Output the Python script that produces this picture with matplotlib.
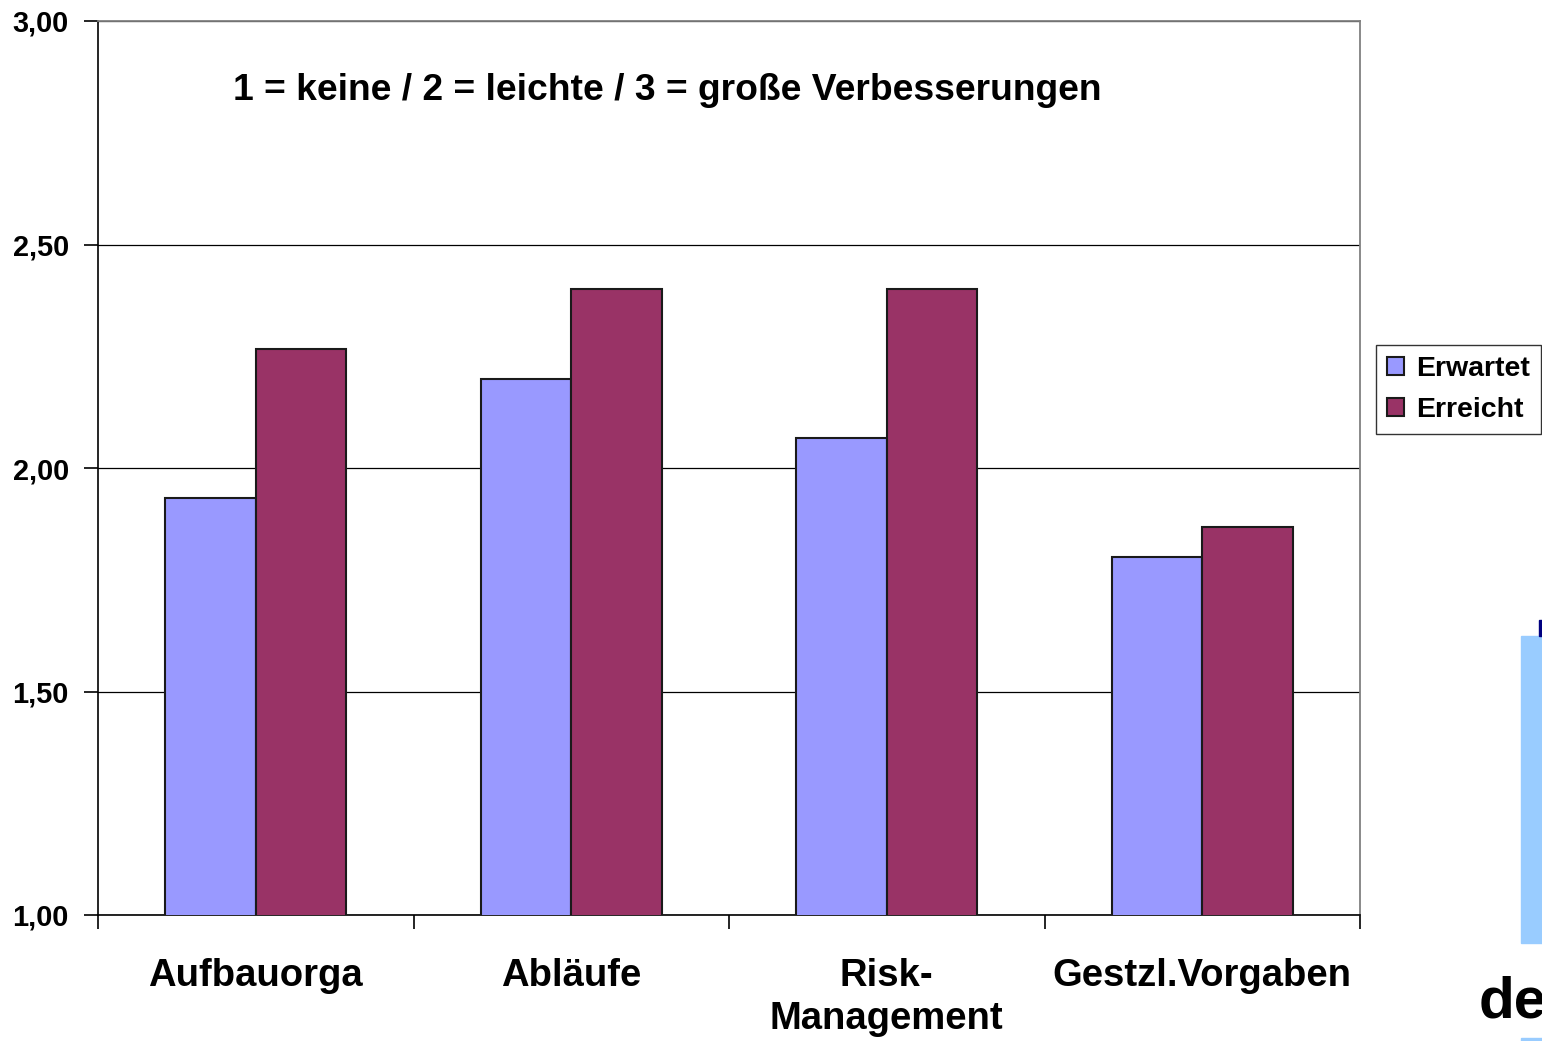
import matplotlib
matplotlib.use("Agg")
import matplotlib.pyplot as plt
import numpy as np
from matplotlib.patches import Rectangle

categories = ["Aufbauorga", "Abläufe", "Risk-\nManagement", "Gestzl.Vorgaben"]
erwartet = [1.933, 2.200, 2.067, 1.800]
erreicht = [2.267, 2.400, 2.400, 1.867]
yticks = [1.0, 1.5, 2.0, 2.5, 3.0]
ytick_labels = ["1,00", "1,50", "2,00", "2,50", "3,00"]

plt.rcParams['font.family'] = ['Liberation Sans', 'DejaVu Sans']
plt.rcParams['font.weight'] = 'bold'

fig = plt.figure(figsize=(15.42, 10.41), dpi=100)
ax = fig.add_axes([98/1542, 1 - 915/1041, (1360-98)/1542, (915-21)/1041])

x = np.arange(len(categories))
w = 0.287
ax.bar(x - w/2, erwartet, width=w, bottom=0, color="#9999FF", edgecolor="#1a1a1a", linewidth=1.5, label="Erwartet", zorder=3)
ax.bar(x + w/2, erreicht, width=w, bottom=0, color="#993366", edgecolor="#1a1a1a", linewidth=1.5, label="Erreicht", zorder=3)

ax.set_xlim(-0.5, 3.5)
ax.set_ylim(1.0, 3.0)
ax.set_yticks(yticks)
ax.set_yticklabels(ytick_labels, fontsize=20.8, fontweight='bold')
ax.tick_params(axis='y', direction='out', length=10, width=1.2, pad=11)
ax.yaxis.grid(True, color='black', linewidth=0.9, zorder=0)
ax.set_axisbelow(True)

ax.set_xticks(x)
ax.set_xticklabels(categories, fontsize=27.5, fontweight='bold', linespacing=1.25)
ax.tick_params(axis='x', which='major', length=0, pad=31)
ax.set_xticks(np.arange(-0.5, 4.0, 1.0), minor=True)
ax.tick_params(axis='x', which='minor', direction='out', length=10, width=1.2)

for s in ['top', 'right']:
    ax.spines[s].set_color('#808080')
    ax.spines[s].set_linewidth(1.3)
for s in ['left', 'bottom']:
    ax.spines[s].set_color('black')
    ax.spines[s].set_linewidth(1.2)

fig.text(233/1542, 1 - 90/1041, "1 = keine / 2 = leichte / 3 = große Verbesserungen",
         fontsize=26.8, fontweight='bold', ha='left', va='center')

leg = fig.legend(loc='upper left', bbox_to_anchor=(1376/1542, 1 - 345/1041),
                 fontsize=20.5, frameon=True, fancybox=False, edgecolor='black',
                 handlelength=0.6, handleheight=0.6, handletextpad=0.4,
                 borderpad=0.4, labelspacing=0.5, borderaxespad=0)
leg.get_frame().set_linewidth(1.0)
for t in leg.get_texts():
    t.set_fontweight('bold')

# decorations at right edge
fig.patches.append(Rectangle((1521/1542, 1 - 943/1041), 25/1542, (943-636)/1041,
                             transform=fig.transFigure, color="#99CCFF", zorder=1))
fig.patches.append(Rectangle((1539/1542, 1 - 636/1041), 5/1542, 16/1041,
                             transform=fig.transFigure, color="#000080", zorder=1))
fig.patches.append(Rectangle((1521/1542, 0), 25/1542, 3/1041,
                             transform=fig.transFigure, color="#99CCFF", zorder=1))
fig.text(1479/1542, 1 - 1017/1041, "de", fontsize=42, fontweight='bold',
         ha='left', va='baseline')

fig.savefig("out.png", dpi=100)
